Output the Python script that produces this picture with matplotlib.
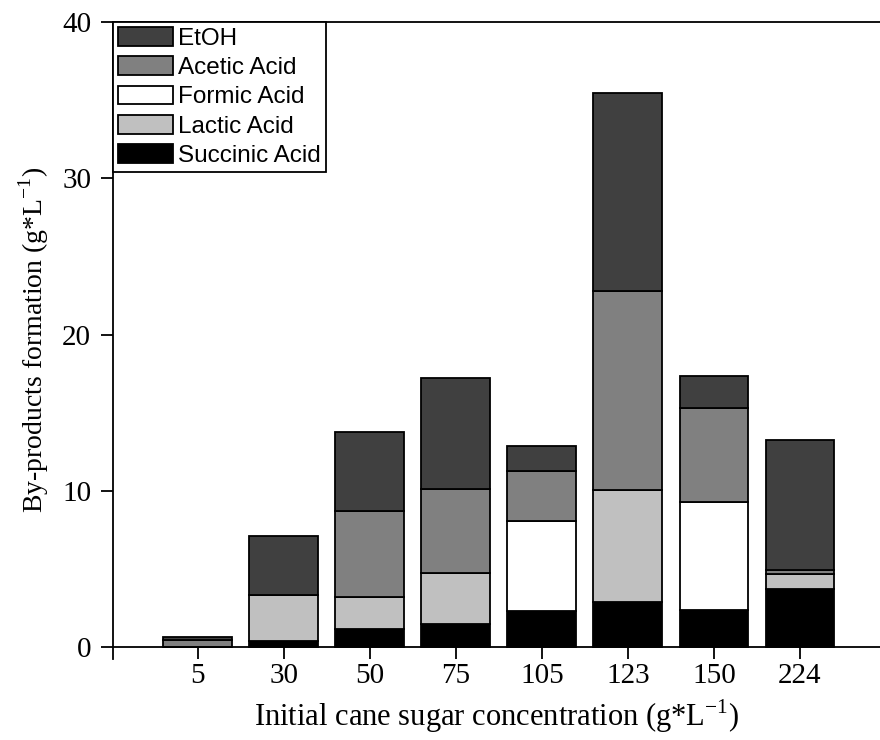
"""Stacked by-product formation against initial cane sugar concentration."""

import matplotlib.pyplot as plt
import numpy as np

sugar = ['5', '30', '50', '75', '105', '123', '150', '224']

succinic = [0.0, 0.40, 1.13, 1.45, 2.30, 2.86, 2.37, 3.69]
lactic = [0.0, 2.93, 2.09, 3.27, 0.0, 7.19, 0.0, 0.96]
formic = [0.0, 0.0, 0.0, 0.0, 5.79, 0.0, 6.91, 0.0]
acetic = [0.41, 0.0, 5.48, 5.37, 3.17, 12.75, 6.02, 0.28]
etoh = [0.25, 3.77, 5.08, 7.11, 1.58, 12.66, 2.04, 8.30]

series = [
    ('Succinic Acid', succinic, '#000000'),
    ('Lactic Acid', lactic, '#c0c0c0'),
    ('Formic Acid', formic, '#ffffff'),
    ('Acetic Acid', acetic, '#808080'),
    ('EtOH', etoh, '#404040'),
]

serif = ['Liberation Serif', 'DejaVu Serif']
sans = ['Liberation Sans', 'DejaVu Sans']
plt.rcParams['mathtext.fontset'] = 'custom'
plt.rcParams['mathtext.rm'] = 'Liberation Serif'

fig = plt.figure(figsize=(8.8, 7.4), dpi=100)
ax = fig.add_axes([0.128, 0.110, 0.872, 0.860])

ind = np.arange(len(sugar))
width = 0.8
bottom = np.zeros(len(sugar))
handles = {}
for name, vals, color in series:
    vals = np.asarray(vals)
    bars = ax.bar(ind, vals, width, bottom=bottom, color=color,
                  edgecolor='black', linewidth=1.3, label=name)
    handles[name] = bars
    bottom += vals

ax.set_xlim(-0.988, 7.93)
ax.set_ylim(-0.75, 40)
ax.spines['bottom'].set_position(('data', 0))
ax.spines['right'].set_visible(False)
for side in ('left', 'bottom', 'top'):
    ax.spines[side].set_linewidth(1.3)

ax.set_xticks(ind)
ax.set_xticklabels(sugar, family=serif, fontsize=21)
ax.set_yticks([0, 10, 20, 30, 40])
ax.set_yticklabels(['0', '10', '20', '30', '40'], family=serif, fontsize=21)
ax.tick_params(direction='out', length=8.5, width=1.3)
ax.tick_params(axis='x', pad=3)
ax.tick_params(axis='y', pad=7)

ax.set_xlabel(r'Initial cane sugar concentration (g*L$^{\mathregular{-1}}$)',
              family=serif, fontsize=22, labelpad=6)
ax.set_ylabel(r'By-products formation (g*L$^{\mathregular{-1}}$)',
              family=serif, fontsize=20, labelpad=8)

order = ['EtOH', 'Acetic Acid', 'Formic Acid', 'Lactic Acid', 'Succinic Acid']
leg = ax.legend([handles[n] for n in order], order, loc='upper left',
                bbox_to_anchor=(0.0, 1.0), borderaxespad=0.0,
                prop={'family': sans, 'size': 17.5}, frameon=True,
                fancybox=False, edgecolor='black', framealpha=1,
                handlelength=2.3, handleheight=0.8, labelspacing=0.27,
                handletextpad=0.2, borderpad=0.2)
leg.get_frame().set_linewidth(1.3)

fig.savefig('out.png', dpi=100)
